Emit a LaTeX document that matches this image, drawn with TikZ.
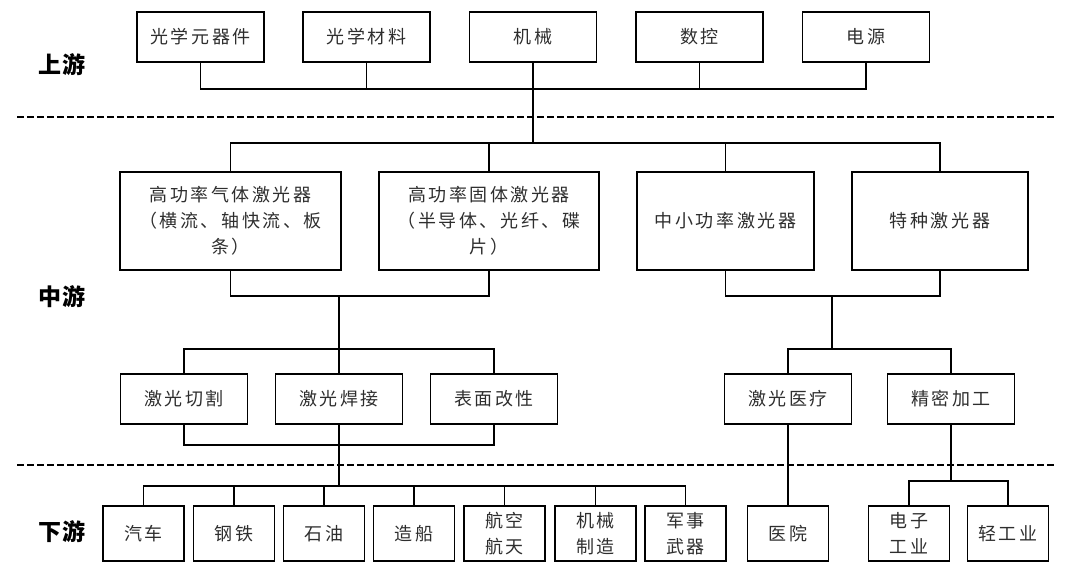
\documentclass[tikz,border=0pt]{standalone}
\usepackage{fontspec}
\setmainfont{Noto Sans CJK SC}
\newfontfamily\boxfont[LetterSpace=14]{Noto Sans CJK SC}
\newfontfamily\labfont[LetterSpace=4]{Noto Sans CJK SC}
\definecolor{txt}{gray}{0.18}
\begin{document}
\begin{tikzpicture}[x=1pt,y=-1pt,
  box/.style={draw, line width=1.6pt, inner sep=0pt, align=center, text=txt,
    font={\boxfont\fontsize{18}{26}\selectfont}},
  topbox/.style={box, minimum width=127pt, minimum height=50pt},
  midbox/.style={box, minimum width=220pt, minimum height=98pt},
  appbox/.style={box, minimum width=127pt, minimum height=50pt},
  endbox/.style={box, minimum width=81pt, minimum height=55pt},
  conn/.style={line width=1.6pt, line join=miter},
  sep/.style={line width=1.8pt, dash pattern=on 6.5pt off 3.5pt},
  lab/.style={font={\labfont\fontsize{23}{26}\selectfont\bfseries}, text=black, inner sep=0pt}
]
\useasboundingbox (0,0) rectangle (1080,571);

% labels
\node[lab] (lu) at (62,65) {上游};
\node[lab] (lm) at (62,297) {中游};
\node[lab] (ld) at (62,532) {下游};

% separators
\coordinate (s1a) at (17,117);
\coordinate (s1b) at (1055,117);
\coordinate (s2a) at (17,465);
\coordinate (s2b) at (1055,465);
\draw[sep] (s1a) -- (s1b);
\draw[sep] (s2a) -- (s2b);

% upstream
\node[topbox] (t1) at (200.5,37) {光学元器件};
\node[topbox] (t2) at (366.5,37) {光学材料};
\node[topbox] (t3) at (533,37) {机械};
\node[topbox] (t4) at (699.5,37) {数控};
\node[topbox] (t5) at (866,37) {电源};

% midstream
\node[midbox, minimum width=221pt] (m1) at (230.5,221) {高功率气体激光器\\（横流、轴快流、板\\条）};
\node[midbox, minimum width=220pt] (m2) at (489,221) {高功率固体激光器\\（半导体、光纤、碟\\片）};
\node[midbox, minimum width=177pt] (m3) at (725.5,221) {中小功率激光器};
\node[midbox, minimum width=176pt] (m4) at (940,221) {特种激光器};

% applications
\node[appbox] (a1) at (184,399) {激光切割};
\node[appbox] (a2) at (339,399) {激光焊接};
\node[appbox] (a3) at (494,399) {表面改性};
\node[appbox] (a4) at (788,399) {激光医疗};
\node[appbox] (a5) at (951,399) {精密加工};

% downstream
\node[endbox] (d1) at (143.5,533.5) {汽车};
\node[endbox] (d2) at (234,533.5) {钢铁};
\node[endbox] (d3) at (324,533.5) {石油};
\node[endbox] (d4) at (414,533.5) {造船};
\node[endbox] (d5) at (504.5,533.5) {航空\\航天};
\node[endbox] (d6) at (595.5,533.5) {机械\\制造};
\node[endbox] (d7) at (685.5,533.5) {军事\\武器};
\node[endbox] (d8) at (788,533.5) {医院};
\node[endbox] (d9) at (909,533.5) {电子\\工业};
\node[endbox] (d10) at (1008,533.5) {轻工业};

% junction coordinates
\coordinate (jt) at (533,89);
\coordinate (jm) at (533,143);
\coordinate (jl) at (339,296);
\coordinate (jr) at (832,296);
\coordinate (ja) at (339,349);
\coordinate (jb) at (832,349);
\coordinate (jc) at (339,445);
\coordinate (jd) at (339,486);
\coordinate (je) at (951,481);

% upstream bus
\draw[conn] (t1.south) |- (jt) -| (t5.south);
\draw[conn] (t2.south) -- (t2.south |- jt);
\draw[conn] (t4.south) -- (t4.south |- jt);
\draw[conn] (t3.south) -- (jm);

% to midstream
\draw[conn] (m1.north) |- (jm) -| (m4.north);
\draw[conn] (m2.north) -- (m2.north |- jm);
\draw[conn] (m3.north) -- (m3.north |- jm);

% midstream collectors
\draw[conn] (m1.south) |- (jl) -| (m2.south);
\draw[conn] (m3.south) |- (jr) -| (m4.south);
\draw[conn] (jl) -- (ja);
\draw[conn] (jr) -- (jb);

% to applications
\draw[conn] (a1.north) |- (ja) -| (a3.north);
\draw[conn] (a2.north) -- (ja);
\draw[conn] (a4.north) |- (jb) -| (a5.north);

% application collectors
\draw[conn] (a1.south) |- (jc) -| (a3.south);
\draw[conn] (a2.south) -- (jc);
\draw[conn] (jc) -- (jd);

% to downstream
\draw[conn] (d1.north) |- (jd) -| (d7.north);
\draw[conn] (d2.north) -- (d2.north |- jd);
\draw[conn] (d3.north) -- (d3.north |- jd);
\draw[conn] (d4.north) -- (d4.north |- jd);
\draw[conn] (d5.north) -- (d5.north |- jd);
\draw[conn] (d6.north) -- (d6.north |- jd);
\draw[conn] (a4.south) -- (d8.north);
\draw[conn] (a5.south) -- (je);
\draw[conn] (d9.north) |- (je) -| (d10.north);
\end{tikzpicture}
\end{document}
